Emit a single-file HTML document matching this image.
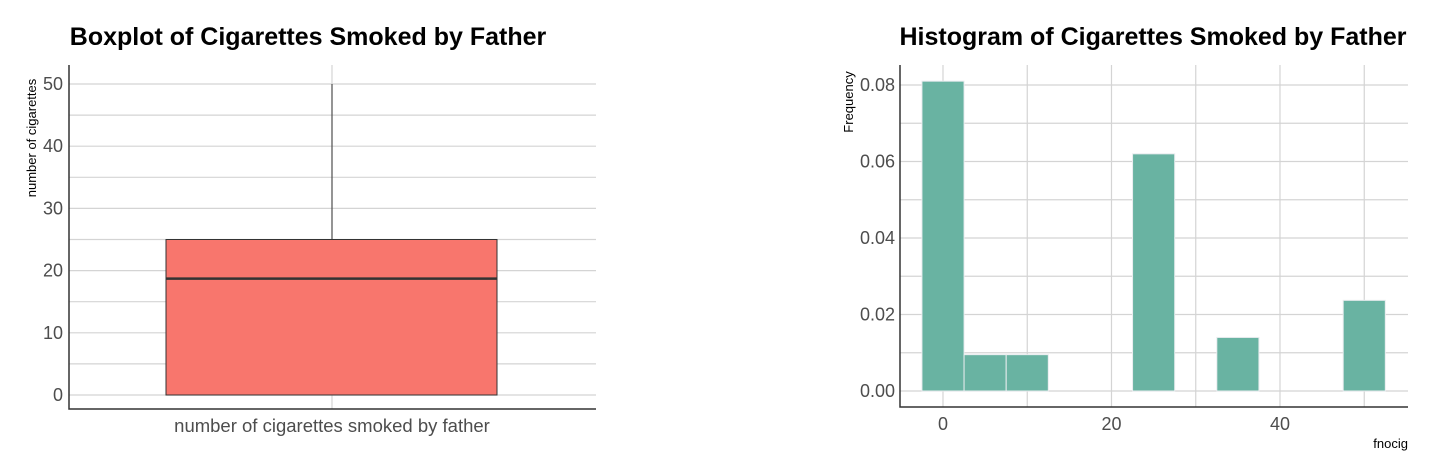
<!DOCTYPE html>
<html><head><meta charset="utf-8"><style>
body{margin:0;background:#fff;width:1433px;height:472px;overflow:hidden;font-family:"Liberation Sans",sans-serif}
svg{position:absolute;left:0;top:0}
</style></head><body>
<svg id="s" width="1433" height="472">
<text x="308" y="45" text-anchor="middle" font-size="25" font-weight="bold">Boxplot of Cigarettes Smoked by Father</text>
<text x="1153" y="45" text-anchor="middle" font-size="25" font-weight="bold">Histogram of Cigarettes Smoked by Father</text>
<text transform="translate(36,138) rotate(-90)" text-anchor="middle" font-size="13">number of cigarettes</text>
<text x="332" y="432" text-anchor="middle" font-size="18.5" fill="#4d4d4d">number of cigarettes smoked by father</text>
<text transform="translate(853,102) rotate(-90)" text-anchor="middle" font-size="13">Frequency</text>
<text x="1408" y="448" text-anchor="end" font-size="13">fnocig</text>
<g id="box"></g><g id="hist"></g>
</svg>
<script>
const boxTicks=[0,10,20,30,40,50];
const boxStats={min:0,q1:0,median:18.7,q3:25,max:50};
const histBins=[0,5,10,25,35,50];
const histFreq=[0.081,0.0095,0.0095,0.062,0.014,0.0237];
const histYTicks=[0,0.02,0.04,0.06,0.08];
const histYLabels=["0.00","0.02","0.04","0.06","0.08"];
const histXTicks=[0,20,40];
const binWidth=5;
const NS="http://www.w3.org/2000/svg";
function mk(p,t,a){const e=document.createElementNS(NS,t);for(const k in a)e.setAttribute(k,a[k]);p.appendChild(e);return e;}
// boxplot
const B=document.getElementById('box');
const by=v=>395-v*(395-84)/50;
for(let v=0;v<=50;v+=5){const l=mk(B,'line',{x1:69,x2:596,y1:by(v),y2:by(v),stroke:'#d4d4d4','stroke-width':1.2});

}
const vg=mk(B,'line',{x1:332,x2:332,y1:65,y2:409,stroke:'#d4d4d4','stroke-width':1.2});


boxTicks.forEach(v=>{const t=mk(B,'text',{x:63,y:by(v)+6,'text-anchor':'end','font-size':18,fill:'#4d4d4d'});t.textContent=v;

});
const wh=mk(B,'line',{x1:332,x2:332,y1:by(boxStats.max),y2:by(boxStats.q3),stroke:'#333','stroke-width':1});


const rb=mk(B,'rect',{x:166,y:by(boxStats.q3),width:331,height:by(boxStats.q1)-by(boxStats.q3),fill:'#f8766d',stroke:'#333','stroke-width':1});


const md=mk(B,'line',{x1:166,x2:497,y1:by(boxStats.median),y2:by(boxStats.median),stroke:'#333','stroke-width':2.5});


const ax1=mk(B,'path',{d:'M69,65V409H596',fill:'none',stroke:'#333','stroke-width':1.5});


// histogram
const H=document.getElementById('hist');
const hx=v=>943+v*(1280-943)/40;
const hy=v=>391-v*(391-85)/0.08;
for(let v=0;v<=0.0801;v+=0.01){const l=mk(H,'line',{x1:900,x2:1408,y1:hy(v),y2:hy(v),stroke:'#d4d4d4','stroke-width':1.2});

}
for(let v=0;v<=50;v+=10){const l=mk(H,'line',{x1:hx(v),x2:hx(v),y1:65,y2:407,stroke:'#d4d4d4','stroke-width':1.2});

}
histYTicks.forEach((v,i)=>{const t=mk(H,'text',{x:895,y:hy(v)+6,'text-anchor':'end','font-size':18,fill:'#4d4d4d'});t.textContent=histYLabels[i];

});
histXTicks.forEach(v=>{const t=mk(H,'text',{x:hx(v),y:430,'text-anchor':'middle','font-size':18,fill:'#4d4d4d'});t.textContent=v;

});
histBins.forEach((b,i)=>{const r=mk(H,'rect',{x:hx(b-binWidth/2),y:hy(histFreq[i]),width:hx(binWidth)-hx(0),height:hy(0)-hy(histFreq[i]),fill:'#69b3a2',stroke:'#e9ecef','stroke-width':1});

});
const ax2=mk(H,'path',{d:'M900,65V407H1408',fill:'none',stroke:'#333','stroke-width':1.5});


</script>
</body></html>
